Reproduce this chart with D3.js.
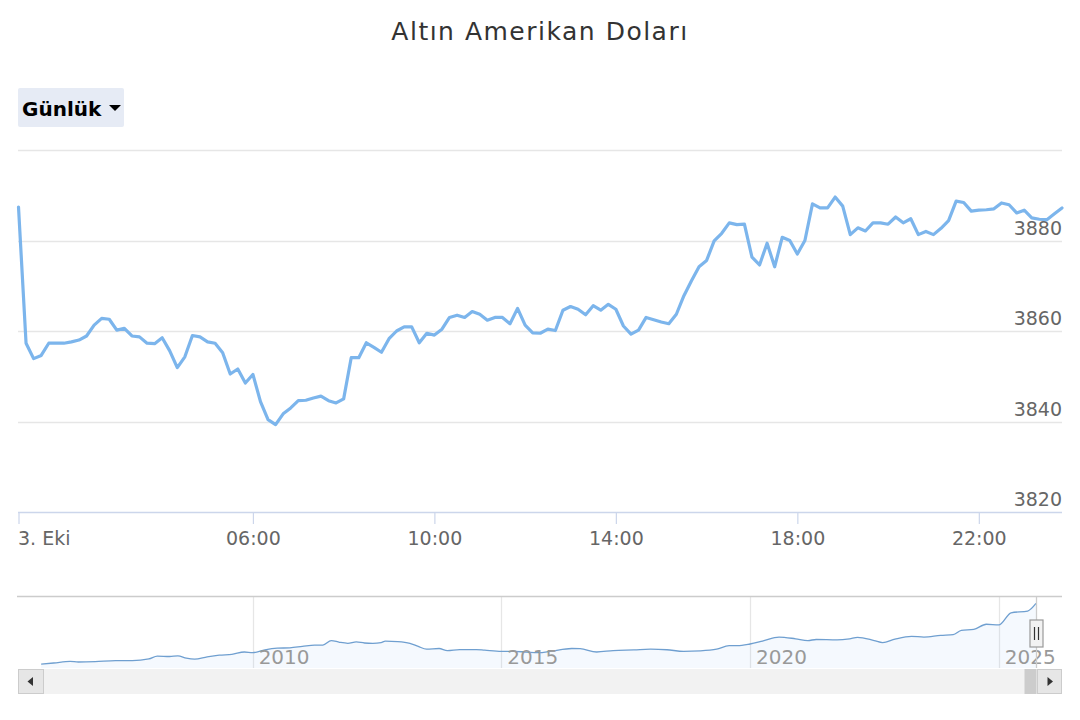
<!DOCTYPE html>
<html>
<head>
<meta charset="utf-8">
<script src="https://cdn.jsdelivr.net/npm/d3@7"></script>
<style>
  html, body { margin: 0; padding: 0; background: #ffffff; }
  svg { display: block; font-family: "DejaVu Sans", Verdana, sans-serif; }
</style>
</head>
<body>
<svg id="chart" width="1080" height="720"></svg>
<script>
// ---------------- DATA ----------------
const chartTitle = "Altın Amerikan Doları";
const rangeButtonLabel = "Günlük";

// intraday series, one value every 10 minutes on 3 Oct 2025
const dayStart = "2025-10-03T00:50:00";
const stepMinutes = 10;
const dayValues = [
  3887.4, 3857.3, 3853.9, 3854.6, 3857.3, 3857.3, 3857.3, 3857.6, 3858.0, 3858.9,
  3861.3, 3862.8, 3862.6, 3860.2, 3860.6, 3858.9, 3858.7, 3857.3, 3857.2, 3858.5,
  3855.6, 3851.9, 3854.3, 3859.0, 3858.7, 3857.6, 3857.3, 3855.2, 3850.5, 3851.6,
  3848.5, 3850.4, 3844.4, 3840.4, 3839.3,
  3841.7, 3843.0, 3844.6, 3844.7, 3845.2, 3845.6, 3844.6, 3844.1, 3845.0, 3854.1,
  3854.1, 3857.4, 3856.4, 3855.3, 3858.3, 3860.0, 3860.9, 3860.9, 3857.4, 3859.5,
  3859.1, 3860.4, 3863.0, 3863.5, 3863.0, 3864.3, 3863.7, 3862.4, 3863.0, 3863.0,
  3861.6, 3865.0, 3861.3, 3859.6, 3859.5,
  3860.4, 3860.1, 3864.6, 3865.4, 3864.8, 3863.6, 3865.6, 3864.6, 3865.9, 3864.8,
  3861.1, 3859.3, 3860.2, 3863.0, 3862.5, 3862.0, 3861.6, 3863.7, 3867.8, 3871.1,
  3874.2, 3875.6, 3879.9, 3881.6, 3883.9, 3883.5, 3883.6, 3876.3, 3874.6, 3879.4,
  3874.2, 3880.7, 3880.0, 3877.0, 3880.0,
  3888.1, 3887.2, 3887.2, 3889.6, 3887.6, 3881.3, 3882.8, 3882.1, 3883.9, 3883.9,
  3883.6, 3885.2, 3883.9, 3884.8, 3881.3, 3882.0, 3881.3, 3882.7, 3884.4, 3888.7,
  3888.4, 3886.5, 3886.7, 3886.8, 3887.0, 3888.3, 3887.9, 3886.1, 3886.7, 3885.0,
  3884.7, 3884.6, 3885.9, 3887.2
];

const yDomain = [3820, 3900];
const yGridValues = [3840, 3860, 3880, 3900];
const yLabelValues = [3820, 3840, 3860, 3880];
const xTickTimes = ["2025-10-03T00:50:00", "2025-10-03T06:00:00", "2025-10-03T10:00:00",
                    "2025-10-03T14:00:00", "2025-10-03T18:00:00", "2025-10-03T22:00:00"];
const xTickLabels = ["3. Eki", "06:00", "10:00", "14:00", "18:00", "22:00"];

// navigator (long history) series
const navDates = ["2005-10","2006-01","2006-05","2006-07","2006-11","2007-04","2007-08","2007-12",
  "2008-02","2008-05","2008-07","2008-09","2008-11","2009-02","2009-05","2009-08","2009-11",
  "2010-01","2010-04","2010-07","2010-10","2011-01","2011-04","2011-06","2011-08","2011-10",
  "2011-12","2012-02","2012-04","2012-06","2012-08","2012-09","2012-12","2013-03","2013-05",
  "2013-07","2013-10","2013-12","2014-03","2014-07","2014-09","2015-01","2015-04","2015-07",
  "2015-10","2016-01","2016-06","2016-08","2016-12","2017-04","2017-09","2018-01","2018-05",
  "2018-09","2019-01","2019-05","2019-08","2019-10","2020-01","2020-04","2020-08","2020-12",
  "2021-03","2021-05","2021-10","2022-01","2022-03","2022-07","2022-09","2022-12","2023-04",
  "2023-07","2023-11","2024-02","2024-04","2024-07","2024-10","2025-01","2025-04","2025-08",
  "2025-10"];
const navValues = [470,532,628,589,608,668,668,764,
  922,899,939,803,747,882,978,1018,1154,
  1114,1272,1368,1391,1470,1544,1544,1800,1702,
  1645,1724,1662,1645,1685,1764,1741,1645,1470,
  1312,1351,1233,1289,1289,1255,1193,1190,1150,
  1114,1200,1351,1340,1154,1233,1272,1312,1280,
  1190,1216,1312,1509,1509,1605,1764,1995,1898,
  1800,1859,1837,1898,1978,1800,1685,1878,2035,
  1995,2091,2131,2368,2425,2719,2679,3363,3465,
  3894];
const navYearTicks = [2010, 2015, 2020, 2025];

// ---------------- DRAW ----------------
const svg = d3.select("#chart");
const parseT = d3.isoParse;
const t0 = parseT(dayStart);
const dayData = dayValues.map((v, i) => ({ t: new Date(t0.getTime() + i * stepMinutes * 60000), v }));

const plotL = 18, plotR = 1062, plotT = 150, plotB = 512;
const x = d3.scaleTime().domain([dayData[0].t, dayData[dayData.length - 1].t]).range([plotL + 0.5, plotR]);
const y = d3.scaleLinear().domain(yDomain).range([plotB, plotT]);

// title
svg.append("text").attr("x", 540).attr("y", 40).attr("text-anchor", "middle")
  .attr("font-size", 25).attr("letter-spacing", 1.5).attr("fill", "#333333").text(chartTitle);

// range button
const btn = svg.append("g");
btn.append("rect").attr("x", 18).attr("y", 88).attr("width", 106).attr("height", 39)
  .attr("rx", 2).attr("fill", "#e6ebf5");
btn.append("text").attr("x", 22).attr("y", 115.5).attr("font-size", 20).attr("font-weight", "bold")
  .attr("fill", "#000000").text(rangeButtonLabel);
btn.append("path").attr("d", "M109,105 L121,105 L115,111 Z").attr("fill", "#000000");

// gridlines
svg.append("g").selectAll("line").data(yGridValues).join("line")
  .attr("x1", plotL).attr("x2", plotR)
  .attr("y1", d => Math.round(y(d)) + 0.5).attr("y2", d => Math.round(y(d)) + 0.5)
  .attr("stroke", "#e6e6e6").attr("stroke-width", 1.6);

// y labels (right side, above gridline)
svg.append("g").selectAll("text").data(yLabelValues).join("text")
  .attr("x", plotR).attr("y", d => y(d) - 6).attr("text-anchor", "end")
  .attr("font-size", 19).attr("fill", "#666666").text(d => d);

// x axis
const xAxis = d3.axisBottom(x)
  .tickValues(xTickTimes.map(parseT))
  .tickFormat((d, i) => xTickLabels[i])
  .tickSizeInner(12).tickSizeOuter(0).tickPadding(8);
const gx = svg.append("g").attr("transform", `translate(0,${plotB})`).call(xAxis);
gx.select(".domain").attr("stroke", "#ccd6eb").attr("stroke-width", 1.6)
  .attr("d", `M${plotL},0.5H${plotR}`);
gx.selectAll(".tick line").attr("stroke", "#ccd6eb").attr("stroke-width", 1.2);
gx.selectAll(".tick text").attr("font-size", 19).attr("fill", "#666666")
  .attr("font-family", "\"DejaVu Sans\", sans-serif");
gx.selectAll(".tick text").filter((d, i) => i === 0).attr("text-anchor", "start").attr("x", -1);

// main line
const line = d3.line().x(d => x(d.t)).y(d => y(d.v));
svg.append("path").datum(dayData).attr("d", line)
  .attr("fill", "none").attr("stroke", "#7cb5ec").attr("stroke-width", 3.2)
  .attr("stroke-linejoin", "round").attr("stroke-linecap", "round");

// ---------------- NAVIGATOR ----------------
const navTop = 597, navBottom = 668;
const navData = navDates.map((d, i) => ({ t: d3.timeParse("%Y-%m")(d), v: navValues[i] }));
const navX = d3.scaleTime().domain([new Date(2005, 3, 14), new Date(2026, 3, 10)]).range([plotL, plotR]);
const navY = d3.scaleLinear().domain([250, 4200]).range([navBottom, navTop + 1]);

// year grid lines
svg.append("g").selectAll("line").data(navYearTicks).join("line")
  .attr("x1", d => Math.round(navX(new Date(d, 0, 1))) + 0.5)
  .attr("x2", d => Math.round(navX(new Date(d, 0, 1))) + 0.5)
  .attr("y1", navTop).attr("y2", navBottom)
  .attr("stroke", "#e6e6e6").attr("stroke-width", 1.3);

// navigator area + line
const navArea = d3.area().x(d => navX(d.t)).y0(navBottom).y1(d => navY(d.v)).curve(d3.curveMonotoneX);
svg.append("path").datum(navData).attr("d", navArea).attr("fill", "rgba(124,181,236,0.08)");
const navLine = d3.line().x(d => navX(d.t)).y(d => navY(d.v)).curve(d3.curveMonotoneX);
svg.append("path").datum(navData).attr("d", navLine)
  .attr("fill", "none").attr("stroke", "#6f9fd0").attr("stroke-width", 1.3);

// year labels
svg.append("g").selectAll("text").data(navYearTicks).join("text")
  .attr("x", d => navX(new Date(d, 0, 1)) + 6).attr("y", 664)
  .attr("font-size", 20).attr("fill", "#999999").text(d => d);

// outline top
svg.append("line").attr("x1", plotL - 1).attr("x2", plotR).attr("y1", 596.5).attr("y2", 596.5)
  .attr("stroke", "#cccccc").attr("stroke-width", 1.5);

// selected range edge + handle
const selX = Math.round(navX(navData[navData.length - 1].t)) + 0.5;
svg.append("line").attr("x1", selX).attr("x2", selX).attr("y1", navTop).attr("y2", navBottom)
  .attr("stroke", "#cccccc").attr("stroke-width", 1.3);
const handle = svg.append("g");
handle.append("rect").attr("x", selX - 6.5).attr("y", 620).attr("width", 13).attr("height", 27)
  .attr("fill", "#f2f2f2").attr("stroke", "#999999").attr("stroke-width", 1.2);
handle.append("path").attr("d", `M${selX - 2},627V640M${selX + 2},627V640`)
  .attr("stroke", "#333333").attr("stroke-width", 1.2);

// scrollbar
const sbTop = 669, sbH = 25;
svg.append("rect").attr("x", plotL).attr("y", sbTop).attr("width", plotR - plotL).attr("height", sbH)
  .attr("fill", "#f2f2f2");
svg.append("rect").attr("x", selX - 12).attr("y", sbTop).attr("width", 12).attr("height", sbH)
  .attr("fill", "#cccccc");
svg.append("rect").attr("x", plotL + 0.5).attr("y", sbTop + 0.5).attr("width", 25).attr("height", sbH - 1)
  .attr("fill", "#e6e6e6").attr("stroke", "#cccccc");
svg.append("path").attr("d", `M27.5,${sbTop + 12.5} L33,${sbTop + 8} L33,${sbTop + 17} Z`).attr("fill", "#333333");
svg.append("rect").attr("x", plotR - 24.5).attr("y", sbTop + 0.5).attr("width", 24).attr("height", sbH - 1)
  .attr("fill", "#e6e6e6").attr("stroke", "#cccccc");
svg.append("path").attr("d", `M${plotR - 9},${sbTop + 12.5} L${plotR - 14.5},${sbTop + 8} L${plotR - 14.5},${sbTop + 17} Z`).attr("fill", "#333333");
</script>
</body>
</html>
